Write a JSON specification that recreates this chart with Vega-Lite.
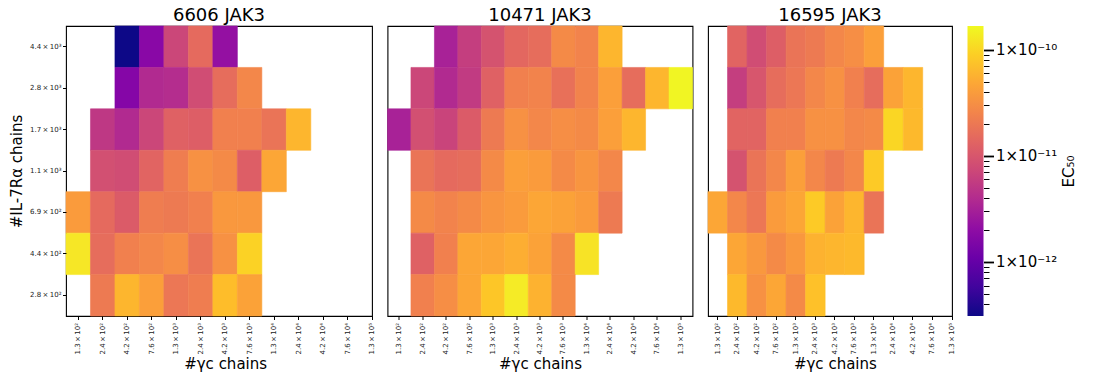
{
  "$schema": "https://vega.github.io/schema/vega-lite/v6.json",
  "padding": {"left": 8, "top": 6, "right": 5, "bottom": 3},
  "background": "white",
  "config": {
    "font": "DejaVu Sans",
    "view": {"stroke": "black", "strokeWidth": 1.1},
    "axis": {"grid": false, "domain": false, "tickColor": "black", "labelColor": "#222222", "titleColor": "black", "titleFontWeight": "normal"},
    "title": {"fontSize": 18, "fontWeight": "normal", "color": "black", "offset": 1, "anchor": "middle"},
    "rect": {"strokeWidth": 0.6}
  },
  "datasets": {
    "p1": [
      {"g": "4.2×10²", "r": "4.4×10³", "v": 3.1e-13},
      {"g": "7.6×10²", "r": "4.4×10³", "v": 1.8e-12},
      {"g": "1.3×10³", "r": "4.4×10³", "v": 7.19e-12},
      {"g": "2.4×10³", "r": "4.4×10³", "v": 1.53e-11},
      {"g": "4.2×10³", "r": "4.4×10³", "v": 2.18e-12},
      {"g": "4.2×10²", "r": "2.8×10³", "v": 1.69e-12},
      {"g": "7.6×10²", "r": "2.8×10³", "v": 3.84e-12},
      {"g": "1.3×10³", "r": "2.8×10³", "v": 4.08e-12},
      {"g": "2.4×10³", "r": "2.8×10³", "v": 8.17e-12},
      {"g": "4.2×10³", "r": "2.8×10³", "v": 1.63e-11},
      {"g": "7.6×10³", "r": "2.8×10³", "v": 2.7e-11},
      {"g": "2.4×10²", "r": "1.7×10³", "v": 5.25e-12},
      {"g": "4.2×10²", "r": "1.7×10³", "v": 3.84e-12},
      {"g": "7.6×10²", "r": "1.7×10³", "v": 7.19e-12},
      {"g": "1.3×10³", "r": "1.7×10³", "v": 1.27e-11},
      {"g": "2.4×10³", "r": "1.7×10³", "v": 1.19e-11},
      {"g": "4.2×10³", "r": "1.7×10³", "v": 2.38e-11},
      {"g": "7.6×10³", "r": "1.7×10³", "v": 2.38e-11},
      {"g": "1.3×10⁴", "r": "1.7×10³", "v": 1.85e-11},
      {"g": "2.4×10⁴", "r": "1.7×10³", "v": 6.11e-11},
      {"g": "2.4×10²", "r": "1.1×10³", "v": 8.69e-12},
      {"g": "4.2×10²", "r": "1.1×10³", "v": 8.17e-12},
      {"g": "7.6×10²", "r": "1.1×10³", "v": 1.35e-11},
      {"g": "1.3×10³", "r": "1.1×10³", "v": 2.23e-11},
      {"g": "2.4×10³", "r": "1.1×10³", "v": 3.25e-11},
      {"g": "4.2×10³", "r": "1.1×10³", "v": 2.87e-11},
      {"g": "7.6×10³", "r": "1.1×10³", "v": 1.19e-11},
      {"g": "1.3×10⁴", "r": "1.1×10³", "v": 4.75e-11},
      {"g": "1.3×10²", "r": "6.9×10²", "v": 3.94e-11},
      {"g": "2.4×10²", "r": "6.9×10²", "v": 1.53e-11},
      {"g": "4.2×10²", "r": "6.9×10²", "v": 1.12e-11},
      {"g": "7.6×10²", "r": "6.9×10²", "v": 2.23e-11},
      {"g": "1.3×10³", "r": "6.9×10²", "v": 2.09e-11},
      {"g": "2.4×10³", "r": "6.9×10²", "v": 2.38e-11},
      {"g": "4.2×10³", "r": "6.9×10²", "v": 3.69e-11},
      {"g": "7.6×10³", "r": "6.9×10²", "v": 3.69e-11},
      {"g": "1.3×10²", "r": "4.4×10²", "v": 1.3e-10},
      {"g": "2.4×10²", "r": "4.4×10²", "v": 1.63e-11},
      {"g": "4.2×10²", "r": "4.4×10²", "v": 2.38e-11},
      {"g": "7.6×10²", "r": "4.4×10²", "v": 2.7e-11},
      {"g": "1.3×10³", "r": "4.4×10²", "v": 3.05e-11},
      {"g": "2.4×10³", "r": "4.4×10²", "v": 1.85e-11},
      {"g": "4.2×10³", "r": "4.4×10²", "v": 3.25e-11},
      {"g": "7.6×10³", "r": "4.4×10²", "v": 9.49e-11},
      {"g": "2.4×10²", "r": "2.8×10²", "v": 2.09e-11},
      {"g": "4.2×10²", "r": "2.8×10²", "v": 6.11e-11},
      {"g": "7.6×10²", "r": "2.8×10²", "v": 4.19e-11},
      {"g": "1.3×10³", "r": "2.8×10²", "v": 1.97e-11},
      {"g": "2.4×10³", "r": "2.8×10²", "v": 2.23e-11},
      {"g": "4.2×10³", "r": "2.8×10²", "v": 6.93e-11},
      {"g": "7.6×10³", "r": "2.8×10²", "v": 4.46e-11}
    ],
    "p2": [
      {"g": "4.2×10²", "r": "4.4×10³", "v": 3.18e-12},
      {"g": "7.6×10²", "r": "4.4×10³", "v": 5.96e-12},
      {"g": "1.3×10³", "r": "4.4×10³", "v": 9.25e-12},
      {"g": "2.4×10³", "r": "4.4×10³", "v": 1.44e-11},
      {"g": "4.2×10³", "r": "4.4×10³", "v": 1.63e-11},
      {"g": "7.6×10³", "r": "4.4×10³", "v": 2.87e-11},
      {"g": "1.3×10⁴", "r": "4.4×10³", "v": 2.53e-11},
      {"g": "2.4×10⁴", "r": "4.4×10³", "v": 6.11e-11},
      {"g": "2.4×10²", "r": "2.8×10³", "v": 7.19e-12},
      {"g": "4.2×10²", "r": "2.8×10³", "v": 3.84e-12},
      {"g": "7.6×10²", "r": "2.8×10³", "v": 5.6e-12},
      {"g": "1.3×10³", "r": "2.8×10³", "v": 1.27e-11},
      {"g": "2.4×10³", "r": "2.8×10³", "v": 2.38e-11},
      {"g": "4.2×10³", "r": "2.8×10³", "v": 2.53e-11},
      {"g": "7.6×10³", "r": "2.8×10³", "v": 1.74e-11},
      {"g": "1.3×10⁴", "r": "2.8×10³", "v": 2.53e-11},
      {"g": "2.4×10⁴", "r": "2.8×10³", "v": 4.19e-11},
      {"g": "4.2×10⁴", "r": "2.8×10³", "v": 1.63e-11},
      {"g": "7.6×10⁴", "r": "2.8×10³", "v": 6.11e-11},
      {"g": "1.3×10⁵", "r": "2.8×10³", "v": 1.57e-10},
      {"g": "1.3×10²", "r": "1.7×10³", "v": 3.18e-12},
      {"g": "2.4×10²", "r": "1.7×10³", "v": 8.69e-12},
      {"g": "4.2×10²", "r": "1.7×10³", "v": 6.76e-12},
      {"g": "7.6×10²", "r": "1.7×10³", "v": 1.12e-11},
      {"g": "1.3×10³", "r": "1.7×10³", "v": 2.09e-11},
      {"g": "2.4×10³", "r": "1.7×10³", "v": 3.25e-11},
      {"g": "4.2×10³", "r": "1.7×10³", "v": 2.7e-11},
      {"g": "7.6×10³", "r": "1.7×10³", "v": 3.05e-11},
      {"g": "1.3×10⁴", "r": "1.7×10³", "v": 2.87e-11},
      {"g": "2.4×10⁴", "r": "1.7×10³", "v": 4.19e-11},
      {"g": "4.2×10⁴", "r": "1.7×10³", "v": 6.11e-11},
      {"g": "2.4×10²", "r": "1.1×10³", "v": 1.85e-11},
      {"g": "4.2×10²", "r": "1.1×10³", "v": 1.53e-11},
      {"g": "7.6×10²", "r": "1.1×10³", "v": 1.63e-11},
      {"g": "1.3×10³", "r": "1.1×10³", "v": 2.87e-11},
      {"g": "2.4×10³", "r": "1.1×10³", "v": 4.19e-11},
      {"g": "4.2×10³", "r": "1.1×10³", "v": 3.94e-11},
      {"g": "7.6×10³", "r": "1.1×10³", "v": 2.87e-11},
      {"g": "1.3×10⁴", "r": "1.1×10³", "v": 3.47e-11},
      {"g": "2.4×10⁴", "r": "1.1×10³", "v": 2.7e-11},
      {"g": "2.4×10²", "r": "6.9×10²", "v": 2.87e-11},
      {"g": "4.2×10²", "r": "6.9×10²", "v": 2.53e-11},
      {"g": "7.6×10²", "r": "6.9×10²", "v": 2.87e-11},
      {"g": "1.3×10³", "r": "6.9×10²", "v": 3.47e-11},
      {"g": "2.4×10³", "r": "6.9×10²", "v": 3.94e-11},
      {"g": "4.2×10³", "r": "6.9×10²", "v": 4.75e-11},
      {"g": "7.6×10³", "r": "6.9×10²", "v": 4.46e-11},
      {"g": "1.3×10⁴", "r": "6.9×10²", "v": 3.94e-11},
      {"g": "2.4×10⁴", "r": "6.9×10²", "v": 2.09e-11},
      {"g": "2.4×10²", "r": "4.4×10²", "v": 1.27e-11},
      {"g": "4.2×10²", "r": "4.4×10²", "v": 2.38e-11},
      {"g": "7.6×10²", "r": "4.4×10²", "v": 4.75e-11},
      {"g": "1.3×10³", "r": "4.4×10²", "v": 4.75e-11},
      {"g": "2.4×10³", "r": "4.4×10²", "v": 5.38e-11},
      {"g": "4.2×10³", "r": "4.4×10²", "v": 4.46e-11},
      {"g": "7.6×10³", "r": "4.4×10²", "v": 2.87e-11},
      {"g": "1.3×10⁴", "r": "4.4×10²", "v": 1.22e-10},
      {"g": "2.4×10²", "r": "2.8×10²", "v": 2.38e-11},
      {"g": "4.2×10²", "r": "2.8×10²", "v": 3.05e-11},
      {"g": "7.6×10²", "r": "2.8×10²", "v": 4.75e-11},
      {"g": "1.3×10³", "r": "2.8×10²", "v": 7.85e-11},
      {"g": "2.4×10³", "r": "2.8×10²", "v": 1.38e-10},
      {"g": "4.2×10³", "r": "2.8×10²", "v": 5.74e-11},
      {"g": "7.6×10³", "r": "2.8×10²", "v": 2.87e-11}
    ],
    "p3": [
      {"g": "2.4×10²", "r": "4.4×10³", "v": 1.35e-11},
      {"g": "4.2×10²", "r": "4.4×10³", "v": 8.17e-12},
      {"g": "7.6×10²", "r": "4.4×10³", "v": 1.19e-11},
      {"g": "1.3×10³", "r": "4.4×10³", "v": 1.85e-11},
      {"g": "2.4×10³", "r": "4.4×10³", "v": 2.09e-11},
      {"g": "4.2×10³", "r": "4.4×10³", "v": 2.7e-11},
      {"g": "7.6×10³", "r": "4.4×10³", "v": 3.05e-11},
      {"g": "1.3×10⁴", "r": "4.4×10³", "v": 4.19e-11},
      {"g": "2.4×10²", "r": "2.8×10³", "v": 5.96e-12},
      {"g": "4.2×10²", "r": "2.8×10³", "v": 9.86e-12},
      {"g": "7.6×10²", "r": "2.8×10³", "v": 1.63e-11},
      {"g": "1.3×10³", "r": "2.8×10³", "v": 1.97e-11},
      {"g": "2.4×10³", "r": "2.8×10³", "v": 2.7e-11},
      {"g": "4.2×10³", "r": "2.8×10³", "v": 3.25e-11},
      {"g": "7.6×10³", "r": "2.8×10³", "v": 2.38e-11},
      {"g": "1.3×10⁴", "r": "2.8×10³", "v": 1.63e-11},
      {"g": "2.4×10⁴", "r": "2.8×10³", "v": 4.46e-11},
      {"g": "4.2×10⁴", "r": "2.8×10³", "v": 6.11e-11},
      {"g": "2.4×10²", "r": "1.7×10³", "v": 1.35e-11},
      {"g": "4.2×10²", "r": "1.7×10³", "v": 1.35e-11},
      {"g": "7.6×10²", "r": "1.7×10³", "v": 2.38e-11},
      {"g": "1.3×10³", "r": "1.7×10³", "v": 2.38e-11},
      {"g": "2.4×10³", "r": "1.7×10³", "v": 3.25e-11},
      {"g": "4.2×10³", "r": "1.7×10³", "v": 3.25e-11},
      {"g": "7.6×10³", "r": "1.7×10³", "v": 2.7e-11},
      {"g": "1.3×10⁴", "r": "1.7×10³", "v": 2.87e-11},
      {"g": "2.4×10⁴", "r": "1.7×10³", "v": 1.01e-10},
      {"g": "4.2×10⁴", "r": "1.7×10³", "v": 6.5e-11},
      {"g": "2.4×10²", "r": "1.1×10³", "v": 9.25e-12},
      {"g": "4.2×10²", "r": "1.1×10³", "v": 1.85e-11},
      {"g": "7.6×10²", "r": "1.1×10³", "v": 2.7e-11},
      {"g": "1.3×10³", "r": "1.1×10³", "v": 4.19e-11},
      {"g": "2.4×10³", "r": "1.1×10³", "v": 2.7e-11},
      {"g": "4.2×10³", "r": "1.1×10³", "v": 2.09e-11},
      {"g": "7.6×10³", "r": "1.1×10³", "v": 2.7e-11},
      {"g": "1.3×10⁴", "r": "1.1×10³", "v": 8.38e-11},
      {"g": "1.3×10²", "r": "6.9×10²", "v": 4.75e-11},
      {"g": "2.4×10²", "r": "6.9×10²", "v": 2.7e-11},
      {"g": "4.2×10²", "r": "6.9×10²", "v": 1.97e-11},
      {"g": "7.6×10²", "r": "6.9×10²", "v": 3.94e-11},
      {"g": "1.3×10³", "r": "6.9×10²", "v": 4.75e-11},
      {"g": "2.4×10³", "r": "6.9×10²", "v": 8.38e-11},
      {"g": "4.2×10³", "r": "6.9×10²", "v": 4.46e-11},
      {"g": "7.6×10³", "r": "6.9×10²", "v": 6.11e-11},
      {"g": "1.3×10⁴", "r": "6.9×10²", "v": 1.85e-11},
      {"g": "2.4×10²", "r": "4.4×10²", "v": 4.75e-11},
      {"g": "4.2×10²", "r": "4.4×10²", "v": 3.69e-11},
      {"g": "7.6×10²", "r": "4.4×10²", "v": 2.87e-11},
      {"g": "1.3×10³", "r": "4.4×10²", "v": 3.69e-11},
      {"g": "2.4×10³", "r": "4.4×10²", "v": 5.74e-11},
      {"g": "4.2×10³", "r": "4.4×10²", "v": 6.11e-11},
      {"g": "7.6×10³", "r": "4.4×10²", "v": 6.5e-11},
      {"g": "2.4×10²", "r": "2.8×10²", "v": 6.5e-11},
      {"g": "4.2×10²", "r": "2.8×10²", "v": 3.25e-11},
      {"g": "7.6×10²", "r": "2.8×10²", "v": 4.75e-11},
      {"g": "1.3×10³", "r": "2.8×10²", "v": 2.87e-11},
      {"g": "2.4×10³", "r": "2.8×10²", "v": 7.38e-11}
    ]
  },
  "resolve": {"scale": {"x": "independent", "y": "independent", "color": "independent", "stroke": "independent"}},
  "bounds": "flush",
  "spacing": 15.5,
  "hconcat": [
    {
      "data": {"name": "p1"},
      "title": "6606 JAK3",
      "width": 306,
      "height": 290,
      "mark": "rect",
      "encoding": {
        "x": {"field": "g", "type": "nominal",
          "scale": {"domain": ["1.3×10²","2.4×10²","4.2×10²","7.6×10²","1.3×10³","2.4×10³","4.2×10³","7.6×10³","1.3×10⁴","2.4×10⁴","4.2×10⁴","7.6×10⁴","1.3×10⁵"], "range": [0, 318.24], "paddingInner": 0, "paddingOuter": 0},
          "axis": {"title": "#γc chains", "titleFontSize": 15, "titlePadding": 2, "labelAngle": -90, "labelFontSize": 7, "labelPadding": 3, "tickSize": 3.5, "labelExpr": "replace(datum.label, '×', '\u2009×\u2009')"}},
        "y": {"field": "r", "type": "nominal",
          "scale": {"domain": ["4.4×10³","2.8×10³","1.7×10³","1.1×10³","6.9×10²","4.4×10²","2.8×10²"], "paddingInner": 0, "paddingOuter": 0},
          "axis": {"title": "#IL-7Rα chains", "titleFontSize": 15, "titlePadding": 5, "labelFontSize": 7, "labelPadding": 1.5, "tickSize": 3.5, "labelExpr": "replace(datum.label, '×', '\u2009×\u2009')"}},
        "color": {"field": "v", "type": "quantitative", "scale": {"type": "log", "scheme": "plasma", "domain": [3.1e-13, 1.67e-10], "nice": false}, "legend": null},
        "stroke": {"field": "v", "type": "quantitative", "scale": {"type": "log", "scheme": "plasma", "domain": [3.1e-13, 1.67e-10], "nice": false}, "legend": null}
      }
    },
    {
      "data": {"name": "p2"},
      "title": "10471 JAK3",
      "width": 305,
      "height": 290,
      "mark": "rect",
      "encoding": {
        "x": {"field": "g", "type": "nominal",
          "scale": {"domain": ["1.3×10²","2.4×10²","4.2×10²","7.6×10²","1.3×10³","2.4×10³","4.2×10³","7.6×10³","1.3×10⁴","2.4×10⁴","4.2×10⁴","7.6×10⁴","1.3×10⁵"], "paddingInner": 0, "paddingOuter": 0},
          "axis": {"title": "#γc chains", "titleFontSize": 15, "titlePadding": 2, "labelAngle": -90, "labelFontSize": 7, "labelPadding": 3, "tickSize": 3.5, "labelExpr": "replace(datum.label, '×', '\u2009×\u2009')"}},
        "y": {"field": "r", "type": "nominal",
          "scale": {"domain": ["4.4×10³","2.8×10³","1.7×10³","1.1×10³","6.9×10²","4.4×10²","2.8×10²"], "paddingInner": 0, "paddingOuter": 0},
          "axis": null},
        "color": {"field": "v", "type": "quantitative", "scale": {"type": "log", "scheme": "plasma", "domain": [3.1e-13, 1.67e-10], "nice": false}, "legend": null},
        "stroke": {"field": "v", "type": "quantitative", "scale": {"type": "log", "scheme": "plasma", "domain": [3.1e-13, 1.67e-10], "nice": false}, "legend": null}
      }
    },
    {
      "data": {"name": "p3"},
      "title": "16595 JAK3",
      "width": 244,
      "height": 290,
      "mark": "rect",
      "encoding": {
        "x": {"field": "g", "type": "nominal",
          "scale": {"domain": ["1.3×10²","2.4×10²","4.2×10²","7.6×10²","1.3×10³","2.4×10³","4.2×10³","7.6×10³","1.3×10⁴","2.4×10⁴","4.2×10⁴","7.6×10⁴","1.3×10⁵"], "range": [0, 253.76], "paddingInner": 0, "paddingOuter": 0},
          "axis": {"title": "#γc chains", "titleFontSize": 15, "titlePadding": 2, "labelAngle": -90, "labelFontSize": 7, "labelPadding": 3, "tickSize": 3.5, "labelExpr": "replace(datum.label, '×', '\u2009×\u2009')"}},
        "y": {"field": "r", "type": "nominal",
          "scale": {"domain": ["4.4×10³","2.8×10³","1.7×10³","1.1×10³","6.9×10²","4.4×10²","2.8×10²"], "paddingInner": 0, "paddingOuter": 0},
          "axis": null},
        "color": {"field": "v", "type": "quantitative", "scale": {"type": "log", "scheme": "plasma", "domain": [3.1e-13, 1.67e-10], "nice": false}, "legend": null},
        "stroke": {"field": "v", "type": "quantitative", "scale": {"type": "log", "scheme": "plasma", "domain": [3.1e-13, 1.67e-10], "nice": false}, "legend": null}
      }
    },
    {
      "data": {"values": [{}]},
      "width": 16,
      "height": 290,
      "view": {"stroke": null},
      "mark": {"type": "rect", "strokeWidth": 0, "color": {"gradient": "linear", "x1": 0, "y1": 1, "x2": 0, "y2": 0, "stops": [
        {"offset": 0.0, "color": "#0d0887"},
        {"offset": 0.1, "color": "#41049d"},
        {"offset": 0.2, "color": "#6a00a8"},
        {"offset": 0.3, "color": "#8f0da4"},
        {"offset": 0.4, "color": "#b12a90"},
        {"offset": 0.5, "color": "#cc4778"},
        {"offset": 0.6, "color": "#e16462"},
        {"offset": 0.7, "color": "#f2844b"},
        {"offset": 0.8, "color": "#fca636"},
        {"offset": 0.9, "color": "#fcce25"},
        {"offset": 1.0, "color": "#f0f921"}
      ]}},
      "encoding": {
        "y": {"datum": 3.1e-13, "type": "quantitative",
          "scale": {"type": "log", "domain": [3.1e-13, 1.67e-10], "nice": false, "zero": false},
          "axis": {"orient": "right", "title": "EC₅₀", "titleFontSize": 15, "titleAngle": 270, "titlePadding": 20,
            "values": [4e-13,5e-13,6e-13,7e-13,8e-13,9e-13,1e-12,2e-12,3e-12,4e-12,5e-12,6e-12,7e-12,8e-12,9e-12,1e-11,2e-11,3e-11,4e-11,5e-11,6e-11,7e-11,8e-11,9e-11,1e-10],
            "labelExpr": "abs(datum.value/1e-10-1)<0.01 ? '1×10⁻¹⁰' : abs(datum.value/1e-11-1)<0.01 ? '1×10⁻¹¹' : abs(datum.value/1e-12-1)<0.01 ? '1×10⁻¹²' : ''",
            "labelFontSize": 15, "labelColor": "black", "labelPadding": 2, "labelOverlap": false, "labelBound": false, "labelFlush": false,
            "tickSize": {"condition": {"test": "abs(log(datum.value)/LN10 - round(log(datum.value)/LN10)) < 0.01", "value": 10}, "value": 5.5},
            "tickWidth": {"condition": {"test": "abs(log(datum.value)/LN10 - round(log(datum.value)/LN10)) < 0.01", "value": 1.8}, "value": 1}}},
        "y2": {"datum": 1.67e-10}
      }
    }
  ]
}
